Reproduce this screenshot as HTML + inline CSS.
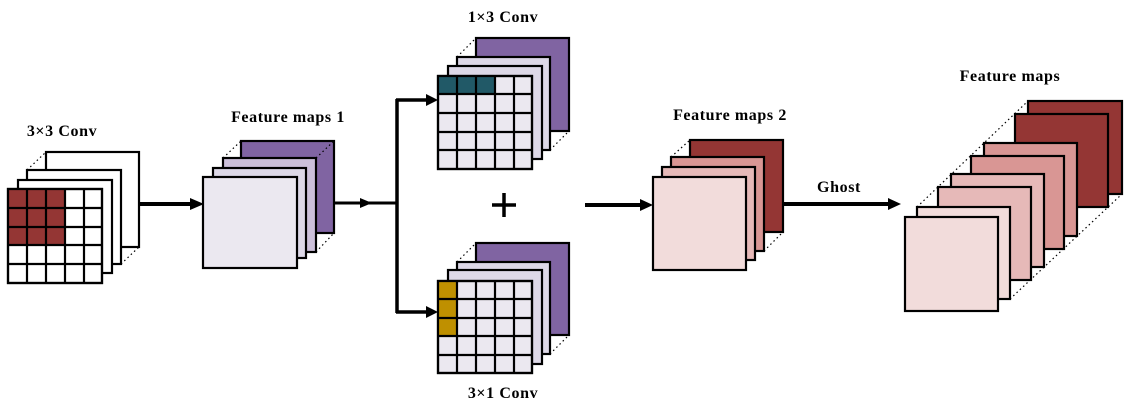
<!DOCTYPE html>
<html><head><meta charset="utf-8"><style>
html,body{margin:0;padding:0;background:#fff}
svg{display:block}
text{font-family:"Liberation Serif",serif;font-weight:bold;font-size:16px;letter-spacing:0.6px;fill:#000}
</style></head><body>
<svg width="1133" height="404" viewBox="0 0 1133 404" xmlns="http://www.w3.org/2000/svg">
<g stroke="#000" stroke-width="2.2">
<line x1="27" y1="170" x2="46" y2="152" stroke-dasharray="1.5 3" stroke-width="1.2"/>
<line x1="121" y1="264" x2="139" y2="247" stroke-dasharray="1.5 3" stroke-width="1.2"/>
<line x1="121" y1="170" x2="139" y2="152" stroke-dasharray="1.5 3" stroke-width="1.2"/>
<rect x="46" y="152" width="93" height="95" fill="#fff"/>
<rect x="27" y="170" width="94" height="94" fill="#fff"/>
<rect x="18" y="180" width="94" height="93" fill="#fff"/>
<rect x="8" y="189" width="94" height="94" fill="#fff"/>
<rect x="8" y="189" width="57" height="56" fill="#943634" stroke="none"/>
<path d="M8 189h94v94H8zM27 189v94M46 189v94M65 189v94M84 189v94M8 208h94M8 227h94M8 245h94M8 264h94" fill="none"/>
<line x1="139" y1="204" x2="192" y2="204" stroke-width="4"/>
<polygon points="190,198 204,204 190,210" fill="#000" stroke="none"/>
<line x1="223" y1="158" x2="241" y2="141" stroke-dasharray="1.5 3" stroke-width="1.2"/>
<line x1="316" y1="252" x2="334" y2="233" stroke-dasharray="1.5 3" stroke-width="1.2"/>
<rect x="241" y="141" width="93" height="92" fill="#8064a2"/>
<line x1="316" y1="158" x2="334" y2="141" stroke-dasharray="1.5 3" stroke-width="1.2"/>
<rect x="223" y="158" width="93" height="94" fill="#ccc0da"/>
<rect x="213" y="168" width="93" height="90" fill="#ddd8e7"/>
<rect x="203" y="177" width="94" height="91" fill="#ebe8f0"/>
<line x1="334" y1="203" x2="397" y2="203" stroke-width="3"/>
<polygon points="360,198 372,203 360,208" fill="#000" stroke="none"/>
<line x1="397" y1="99" x2="397" y2="313" stroke-width="3.5"/>
<line x1="396" y1="100" x2="428" y2="100" stroke-width="3.5"/>
<polygon points="426,94 438,100 426,106" fill="#000" stroke="none"/>
<line x1="396" y1="312" x2="428" y2="312" stroke-width="3.5"/>
<polygon points="426,306 438,312 426,318" fill="#000" stroke="none"/>
<line x1="457" y1="57" x2="476" y2="38" stroke-dasharray="1.5 3" stroke-width="1.2"/>
<line x1="550" y1="57" x2="569" y2="38" stroke-dasharray="1.5 3" stroke-width="1.2"/>
<line x1="550" y1="150" x2="569" y2="131" stroke-dasharray="1.5 3" stroke-width="1.2"/>
<rect x="476" y="38" width="93" height="93" fill="#8064a2"/>
<rect x="457" y="57" width="93" height="93" fill="#ddd8e7"/>
<rect x="448" y="66" width="94" height="93" fill="#ddd8e7"/>
<rect x="438" y="76" width="94" height="93" fill="#ebe8f0"/>
<rect x="438" y="76" width="57" height="18" fill="#215967" stroke="none"/>
<path d="M438 76h94v93h-94zM457 76v93M476 76v93M495 76v93M514 76v93M438 94h94M438 113h94M438 132h94M438 150h94" fill="none"/>
<line x1="457" y1="262" x2="476" y2="243" stroke-dasharray="1.5 3" stroke-width="1.2"/>
<line x1="550" y1="262" x2="569" y2="243" stroke-dasharray="1.5 3" stroke-width="1.2"/>
<line x1="550" y1="354" x2="569" y2="335" stroke-dasharray="1.5 3" stroke-width="1.2"/>
<rect x="476" y="243" width="93" height="92" fill="#8064a2"/>
<rect x="457" y="262" width="93" height="92" fill="#ddd8e7"/>
<rect x="448" y="270" width="94" height="94" fill="#ddd8e7"/>
<rect x="438" y="281" width="94" height="92" fill="#ebe8f0"/>
<rect x="438" y="281" width="19" height="55" fill="#bf9000" stroke="none"/>
<path d="M438 281h94v92h-94zM457 281v92M476 281v92M495 281v92M514 281v92M438 299h94M438 318h94M438 336h94M438 355h94" fill="none"/>
<line x1="492" y1="205" x2="516" y2="205" stroke-width="3.5"/>
<line x1="504" y1="193" x2="504" y2="217" stroke-width="3.5"/>
<line x1="585" y1="205" x2="642" y2="205" stroke-width="4"/>
<polygon points="640,199 653,205 640,211" fill="#000" stroke="none"/>
<line x1="671" y1="157" x2="690" y2="140" stroke-dasharray="1.5 3" stroke-width="1.2"/>
<line x1="764" y1="157" x2="783" y2="140" stroke-dasharray="1.5 3" stroke-width="1.2"/>
<line x1="764" y1="251" x2="783" y2="232" stroke-dasharray="1.5 3" stroke-width="1.2"/>
<rect x="690" y="140" width="93" height="92" fill="#943634"/>
<rect x="671" y="157" width="93" height="94" fill="#d99694"/>
<rect x="662" y="167" width="93" height="93" fill="#e6b9b8"/>
<rect x="653" y="177" width="93" height="93" fill="#f2dcdb"/>
<line x1="783" y1="204" x2="890" y2="204" stroke-width="4"/>
<polygon points="888,198 901,204 888,210" fill="#000" stroke="none"/>
<line x1="917" y1="207" x2="1028" y2="101" stroke-dasharray="1.5 3" stroke-width="1.2"/>
<line x1="1010" y1="299" x2="1122" y2="194" stroke-dasharray="1.5 3" stroke-width="1.2"/>
<line x1="1010" y1="207" x2="1122" y2="101" stroke-dasharray="1.5 3" stroke-width="1.2"/>
<rect x="1028" y="101" width="94" height="93" fill="#943634"/>
<rect x="1015" y="114" width="93" height="93" fill="#943634"/>
<rect x="984" y="143" width="93" height="93" fill="#d99694"/>
<rect x="971" y="156" width="93" height="93" fill="#d99694"/>
<rect x="951" y="174" width="93" height="93" fill="#e6b9b8"/>
<rect x="938" y="187" width="93" height="93" fill="#e6b9b8"/>
<rect x="917" y="207" width="93" height="92" fill="#f2dcdb"/>
<rect x="905" y="217" width="93" height="94" fill="#f2dcdb"/>
</g>
<text x="62" y="136" text-anchor="middle">3×3  Conv</text>
<text x="288" y="122" text-anchor="middle">Feature maps 1</text>
<text x="503" y="22" text-anchor="middle">1×3 Conv</text>
<text x="503" y="398" text-anchor="middle">3×1 Conv</text>
<text x="730" y="120" text-anchor="middle">Feature maps 2</text>
<text x="839" y="192" text-anchor="middle">Ghost</text>
<text x="1010" y="81" text-anchor="middle">Feature maps</text>
</svg>
</body></html>
